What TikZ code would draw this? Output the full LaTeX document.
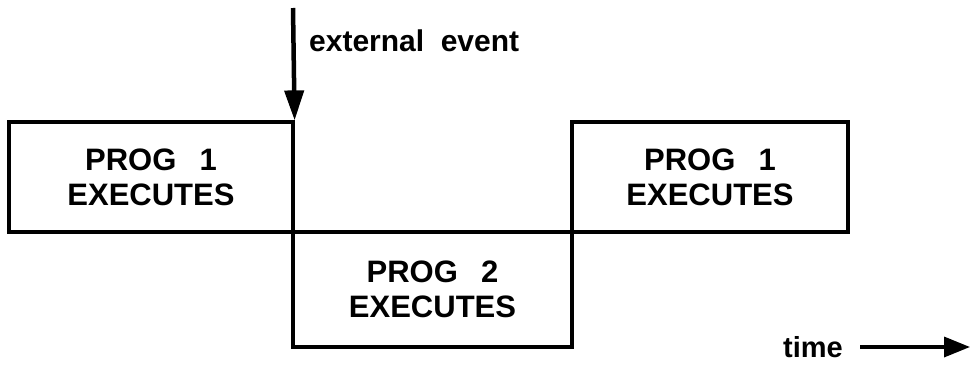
\documentclass[tikz,border=0pt]{standalone}
\usepackage{fontspec}
\setmainfont{Liberation Sans}
\usetikzlibrary{arrows.meta}
\tikzset{
  x=1pt, y=-1pt,
  phase/.style={draw, line width=3.2pt, inner sep=0pt, align=center,
    font=\fontsize{31}{35}\selectfont\bfseries},
  label text/.style={inner sep=0pt, font=\fontsize{30}{34}\selectfont\bfseries},
  event arrow/.style={line width=4.5pt, -{Triangle[length=30pt,width=19pt]}},
  time arrow/.style={line width=3.5pt, -{Triangle[length=26pt,width=20pt]}},
}
\newcommand{\gapP}{\hspace{0.75em}}
\begin{document}
\begin{tikzpicture}
\useasboundingbox (0,0) rectangle (971,364);
% three execution phases on the time line
\node[phase, minimum width=284pt, minimum height=110pt] (p1a) at (151,177) {PROG\gapP 1\\EXECUTES};
\node[phase, minimum width=279pt, minimum height=115pt] (p2) at (432.5,289.5) {PROG\gapP 2\\EXECUTES};
\node[phase, minimum width=276pt, minimum height=110pt] (p1b) at (710,177) {PROG\gapP 1\\EXECUTES};
% interrupt arrow
\coordinate (evtop) at (293,8);
\draw[event arrow] (evtop) -- (p1a.north east);
\node[label text, anchor=base west] (ev) at (309,51) {external\hspace{0.55em}event};
% time direction
\node[label text, font=\fontsize{29}{34}\selectfont\bfseries, anchor=base east] (tm) at (843,357) {time};
\coordinate (tmend) at (970,347);
\draw[time arrow] (860,347) -- (tmend);
\end{tikzpicture}
\end{document}
